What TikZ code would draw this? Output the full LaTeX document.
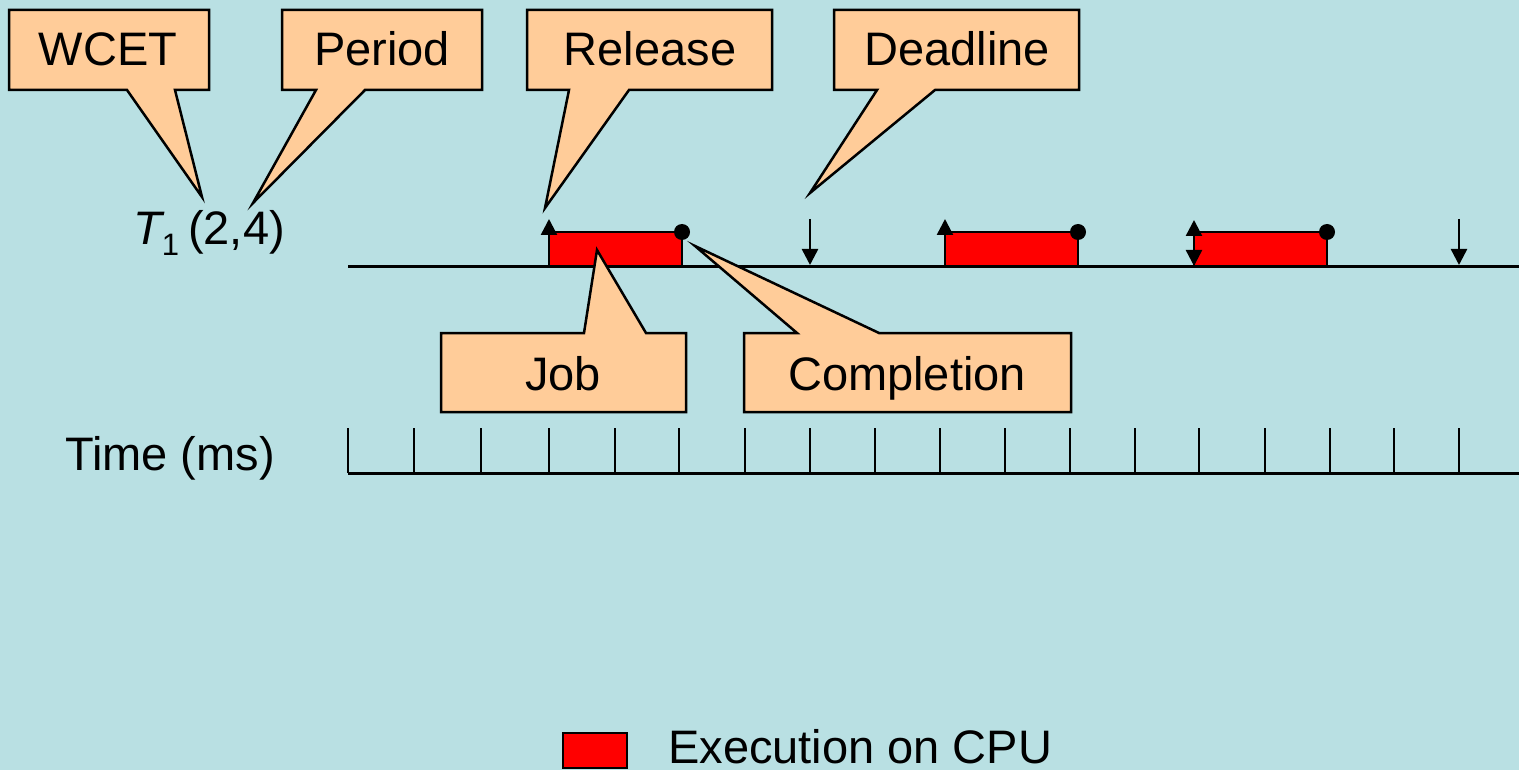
\documentclass[tikz,border=0pt]{standalone}
\usepackage{fontspec}
\setmainfont{Liberation Sans}
\usetikzlibrary{arrows.meta}
\definecolor{bgcyan}{RGB}{185,224,227}
\definecolor{calloutfill}{RGB}{255,204,153}
\begin{document}
\begin{tikzpicture}[x=1pt, y=-1pt,
  font=\fontsize{47}{56}\selectfont,
  callout/.style={draw=black, fill=calloutfill, line width=2.5pt, line join=miter},
  lbl/.style={anchor=base, inner sep=0pt},
  jobbox/.style={draw=black, fill=red, line width=2.5pt},
  axisline/.style={line width=3pt},
  tickline/.style={line width=2pt},
  relarrow/.style={line width=2.5pt, -{Triangle[width=16pt,length=16pt]}},
  dlarrow/.style={line width=2.5pt, -{Triangle[width=16pt,length=16pt]}},
  donedot/.style={fill=black, circle, inner sep=0pt, minimum size=16pt}]

% background and page size
\fill[bgcyan] (0,0) rectangle (1519,770);
\useasboundingbox (0,0) rectangle (1519,770);

% ---- task timeline ----
\coordinate (tl0) at (348,267);
\coordinate (tl1) at (1519,267);

% executions of T1
\draw[jobbox] (549,232) rectangle (682,267);
\draw[jobbox] (945,232) rectangle (1078,267);
\draw[jobbox] (1194,232) rectangle (1327,267);

\draw[axisline] (tl0) -- (tl1);

% release instants (up) and deadlines (down)
\coordinate (r1) at (549,267);  \coordinate (r1t) at (549,219);
\coordinate (r2) at (945,267);  \coordinate (r2t) at (945,219);
\coordinate (r3) at (1194,267); \coordinate (r3t) at (1194,220);
\draw[relarrow] (r1) -- (r1t);
\draw[relarrow] (r2) -- (r2t);
\draw[relarrow] (r3) -- (r3t);

\coordinate (d1t) at (810,219);  \coordinate (d1) at (810,265);
\coordinate (d2t) at (1194,226); \coordinate (d2) at (1194,266);
\coordinate (d3t) at (1459,219); \coordinate (d3) at (1459,265);
\draw[dlarrow] (d1t) -- (d1);
\draw[dlarrow] (d2t) -- (d2);
\draw[dlarrow] (d3t) -- (d3);

% completion points
\node[donedot] (c1) at (682,232) {};
\node[donedot] (c2) at (1078,232) {};
\node[donedot] (c3) at (1327,232) {};

% task label
\node[anchor=base west, inner sep=0pt] (task) at (133,245)
  {{\itshape T}\raisebox{-11pt}{\fontsize{31}{31}\selectfont 1}\hspace{9pt}(2,4)};

% ---- time axis ----
\node[anchor=base west, inner sep=0pt] (timelbl) at (65,470) {Time (ms)};
\draw[axisline] (348,473) -- (1519,473);
\foreach \x in {348,414,481,549,615,679,745,810,875,940,1005,1070,1135,1199,1265,1330,1394,1459}
  \draw[tickline] (\x,473) -- (\x,428);

% ---- callouts above ----
\coordinate (wcetTip) at (202,197);
\draw[callout] (9,10) -- (209,10) -- (209,90) -- (175,90) -- (wcetTip) -- (127,90) -- (9,90) -- cycle;
\node[lbl] (wcet) at (108,66) {WCET};

\coordinate (periodTip) at (253,203);
\draw[callout] (282,10) -- (482,10) -- (482,90) -- (365,90) -- (periodTip) -- (316,90) -- (282,90) -- cycle;
\node[lbl] (period) at (382,66) {Period};

\coordinate (releaseTip) at (545,208);
\draw[callout] (527,10) -- (772,10) -- (772,90) -- (629,90) -- (releaseTip) -- (569,90) -- (527,90) -- cycle;
\node[lbl] (release) at (650,66) {Release};

\coordinate (deadlineTip) at (810,193);
\draw[callout] (834,10) -- (1079,10) -- (1079,90) -- (935,90) -- (deadlineTip) -- (877,90) -- (834,90) -- cycle;
\node[lbl] (deadline) at (957,66) {Deadline};

% ---- callouts below ----
\coordinate (jobTip) at (597,250);
\draw[callout] (441,333) -- (584,333) -- (jobTip) -- (646,333) -- (686,333) -- (686,412) -- (441,412) -- cycle;
\node[lbl] (job) at (563,390) {Job};

\coordinate (complTip) at (695,246);
\draw[callout] (744,333) -- (797,333) -- (complTip) -- (879,333) -- (1071,333) -- (1071,412) -- (744,412) -- cycle;
\node[lbl] (completion) at (907,390) {Completion};

% ---- legend ----
\draw[jobbox] (563,733) rectangle (627,768);
\node[anchor=base west, inner sep=0pt] (legend) at (668,763) {Execution on CPU};
\end{tikzpicture}
\end{document}
